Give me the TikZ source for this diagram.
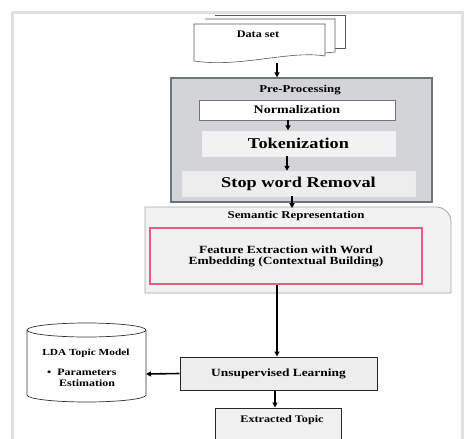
\documentclass[tikz,border=0pt]{standalone}
\usepackage{fontspec}
\setmainfont{Liberation Serif}[FakeStretch=1.22]
\usetikzlibrary{arrows.meta,calc}
\definecolor{ppfill}{HTML}{D3D4D7}
\definecolor{ppdraw}{HTML}{6B737C}
\definecolor{redb}{HTML}{E0607E}
\tikzset{
  arr/.style={-{Triangle[length=5pt,width=5pt]}, line width=1.6pt, black},
  sheet/.style={fill=white, draw=black!65, line width=0.6pt},
  lbl/.style={font=\bfseries\fontsize{10}{12}\selectfont, inner sep=0pt},
}
\begin{document}
\begin{tikzpicture}[x=1pt,y=-1pt]
\useasboundingbox (0,0) rectangle (467,439);
% outer frame
\draw[black!12, line width=3pt] (12,439) -- (12,12) -- (462,12) -- (462,439);

% Data set (multi-document)
\draw[sheet] (215,15) -- (345,15) -- (345,48) -- (335,48);
\draw[sheet] (205,19) -- (335,19) -- (335,52) -- (325,53);
\draw[sheet] (194,24) -- (325,24) -- (325,56) .. controls (290,50) and (240,68) .. (194,61) -- cycle;
\node[lbl] (data) at (258,34) {Data set};
\coordinate (dataB) at (277,63);

% Pre-processing
\node[draw=ppdraw, fill=ppfill, line width=1.2pt, minimum width=261pt, minimum height=124pt, inner sep=0pt] (pp) at (301.5,140) {};
\node[lbl, font=\bfseries\fontsize{10.5}{12}\selectfont] (pptitle) at (300,90) {Pre-Processing};
\node[draw=black!55, fill=white, line width=0.6pt, minimum width=196pt, minimum height=20pt, inner sep=0pt, font=\bfseries\fontsize{11.5}{13}\selectfont] (norm) at (297,110) {Normalization};
\node[draw=black!6, fill=black!5, minimum width=193pt, minimum height=25pt, inner sep=0pt, font=\bfseries\fontsize{15}{17}\selectfont] (tok) at (298.5,143.5) {Tokenization};
\node[draw=black!8, fill=black!7, minimum width=233pt, minimum height=25pt, inner sep=0pt, font=\bfseries\fontsize{15}{17}\selectfont] (stop) at (298.5,183.5) {Stop word Removal};

% Semantic representation
\path[fill=black!5, draw=black!35, line width=0.8pt]
  (145,293) -- (145,207) -- (436,207) arc[start angle=90, end angle=0, radius=15pt] -- (451,293) -- cycle;
\node[lbl, font=\bfseries\fontsize{10.5}{12}\selectfont] (semtitle) at (296,216) {Semantic Representation};
\node[draw=redb, fill=black!6, line width=1.3pt, minimum width=272pt, minimum height=56pt, inner sep=0pt, font=\bfseries\fontsize{11}{13}\selectfont, align=center] (feat) at (286,256) {Feature Extraction with Word\\[-2pt]Embedding (Contextual Building)};

% Unsupervised learning
\node[draw=black!85, fill=black!7, line width=1pt, minimum width=197pt, minimum height=33pt, inner sep=0pt, font=\bfseries\fontsize{11}{13}\selectfont] (unsup) at (278.5,373.5) {Unsupervised Learning};

% LDA cylinder
\draw[fill=white, draw=black!80, line width=0.7pt]
  (27,330) -- (27,395) arc[start angle=180, end angle=360, x radius=59.5pt, y radius=7pt]
  -- (146,330) arc[start angle=0, end angle=180, x radius=59.5pt, y radius=7pt] -- cycle;
\draw[draw=black!80, line width=0.7pt] (27,330) arc[start angle=180, end angle=360, x radius=59.5pt, y radius=7pt];
\node[inner sep=0pt, align=center, font=\bfseries\fontsize{9.3}{11}\selectfont] (lda) at (86,353) {LDA Topic Model};
\node[inner sep=0pt, align=left, font=\bfseries\fontsize{9.8}{11}\selectfont, anchor=north west] (param) at (47,369) {\textbullet\ \ Parameters\\\hspace*{12pt}Estimation};
\coordinate (ldaE) at (146,374);

% Extracted topic
\node[draw=black!85, fill=black!6, line width=1pt, minimum width=126pt, minimum height=40pt, inner sep=0pt] (ext) at (278,428) {};
\node[inner sep=0pt, font=\bfseries\fontsize{10}{12}\selectfont] (exttxt) at (282,420) {Extracted Topic};

% connectors
\draw[arr] (dataB) -- (dataB |- pp.north);
\draw[arr, line width=1.3pt] ($(norm.south)+(-9,0)$) -- ++(0,10);
\draw[arr, line width=1.3pt] (tok.south -| 287,0) -- (stop.north -| 287,0);
\draw[arr] (stop.south -| 292,0) -- ++(0,12);
\draw[arr] (feat.south -| 277,0) -- (unsup.north -| 277,0);
\draw[arr] (unsup.west) -- (ldaE);
\draw[arr] (unsup.south -| 275,0) -- (ext.north -| 275,0);
\end{tikzpicture}
\end{document}
